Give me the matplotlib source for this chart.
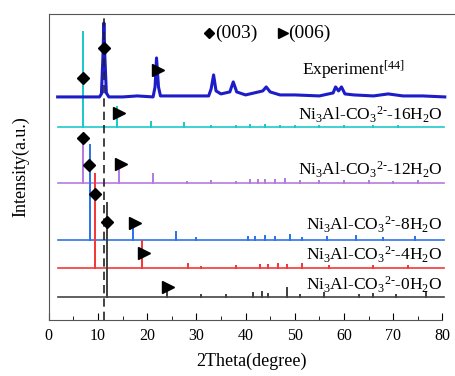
import numpy as np
import matplotlib
matplotlib.use('Agg')
import matplotlib.pyplot as plt
from matplotlib.ticker import MultipleLocator

plt.rcParams['font.family'] = ['Liberation Serif', 'DejaVu Serif']
plt.rcParams['mathtext.fontset'] = 'custom'
plt.rcParams['mathtext.rm'] = 'Liberation Serif'
plt.rcParams['mathtext.it'] = 'Liberation Serif:italic'

# experiment curve (2theta, intensity above baseline)
exp_x = [1.8, 5, 8, 10.3, 10.7, 11.0, 11.2, 11.4, 11.7, 12.2, 15, 18, 21.2, 21.6, 21.9, 22.3, 22.7,
         26, 30, 32.5, 33.0, 33.5, 34.0, 35.0, 36.8, 37.5, 38.2, 40, 43.5, 44.2, 45.0, 47, 50, 55,
         57.8, 58.3, 58.9, 59.5, 60.2, 62, 66, 69, 72, 76, 80.5]
exp_y = [0, 0, 0, 0, 3, 40, 74, 40, 4, 0, 0, 1, 0, 10, 39, 10, 1,
         1, 1, 1, 8, 22, 6, 3, 5, 15, 5, 2, 6, 10, 5, 2, 2, 1,
         4, 10, 6, 10, 3, 2, 1, 3, 1, 1, 0]
exp_base = 223

# simulated patterns: peak positions and heights
cyan_pos = [6.9, 13.8, 20.8, 27.5, 33, 38, 41, 44, 47, 50, 55, 60, 66, 71]
cyan_h = [95, 20, 5, 4, 1, 1, 2, 2, 1, 1, 1, 1, 1, 1]
cyan_base = 193

purple_pos = [7.0, 14.2, 21.2, 28, 33, 38, 41, 42.5, 44, 46, 48, 51, 55, 60, 65, 70, 75]
purple_h = [48, 16, 9, 1, 2, 1, 3, 3, 3, 3, 4, 2, 2, 2, 2, 1, 2]
purple_base = 137

blue_pos = [8.4, 17.1, 25.9, 30, 40.5, 42, 44, 46, 49, 51.5, 56.5, 62.5, 68, 74.5]
blue_h = [95, 18, 8, 2, 3, 3, 4, 3, 5, 2, 3, 4, 2, 3]
blue_base = 80

red_pos = [9.4, 18.9, 28.3, 31, 38, 43, 44.5, 46.5, 48.5, 51.5, 57, 66, 73]
red_h = [94, 27, 4, 1, 2, 3, 3, 4, 3, 4, 2, 2, 2]
red_base = 52

black_pos = [11.8, 24.0, 31, 36, 41.6, 43.3, 44.5, 48.4, 51, 56, 63, 66, 70.5, 76.6]
black_h = [94, 10, 2, 2, 4, 5, 3, 9, 2, 4, 2, 3, 2, 5]
black_base = 23

# (003) and (006) markers
d003_x = [11.2, 6.9, 6.9, 8.2, 9.4, 11.8]
d003_y = [272, 242, 182, 155, 126, 98]
d006_x = [22.3, 14.2, 14.6, 17.5, 19.3, 24.2]
d006_y = [250, 207, 156, 97, 67, 33]

labels = ['16', '12', '8', '4', '0']
label_y = [205, 150, 95, 65, 35]


def sticks(pos, h, base):
    xs, ys = [1.8], [base]
    for p, v in sorted(zip(pos, h)):
        xs += [p, p, p]
        ys += [base, base + v, base]
    xs.append(80.3)
    ys.append(base)
    return xs, ys


fig = plt.figure(figsize=(4.56, 3.76), dpi=100)
ax = fig.add_axes([0.107, 0.149, 0.89, 0.814])

sims = [(cyan_pos, cyan_h, cyan_base, '#1fc9c9'),
        (purple_pos, purple_h, purple_base, '#b57be0'),
        (blue_pos, blue_h, blue_base, '#2f74e8'),
        (red_pos, red_h, red_base, '#f23a3a'),
        (black_pos, black_h, black_base, '#444444')]
for pos, h, base, c in sims:
    xs, ys = sticks(pos, h, base)
    ax.plot(xs, ys, color=c, lw=1.2)

ax.plot(exp_x, np.array(exp_y) + exp_base, color='#1c1cc8', lw=2.2)

ax.axvline(11.3, color='#222222', ls=(0, (5, 3)), lw=1.2)

ax.plot(d003_x, d003_y, 'D', color='black', ms=6, ls='none')
ax.plot(d006_x, d006_y, '>', color='black', ms=8, ls='none')

# legend
ax.plot([32.6], [287], 'D', color='black', ms=5)
ax.text(33.8, 287, '(003)', fontsize=14, va='center')
ax.plot([47.6], [287], '>', color='black', ms=7)
ax.text(48.6, 287, '(006)', fontsize=14, va='center')

ax.text(51.5, 250, 'Experiment$^{[44]}$', fontsize=12.5, va='center')
for n, y in zip(labels, label_y):
    ax.text(80, y, r'Ni$_3$Al-CO$_3$$^{2\text{-}}$-' + n + 'H$_2$O', fontsize=12.5,
            ha='right', va='center')

ax.set_xlim(0, 82.5)
ax.set_ylim(0, 306)
ax.xaxis.set_major_locator(MultipleLocator(10))
ax.xaxis.set_minor_locator(MultipleLocator(5))
ax.tick_params(axis='x', which='major', direction='in', length=5, labelsize=11.5, pad=6)
ax.tick_params(axis='x', which='minor', direction='in', length=3)
ax.set_yticks([])
ax.spines['right'].set_visible(False)
ax.spines['bottom'].set_bounds(0, 80)
for s in ['top', 'left', 'bottom']:
    ax.spines[s].set_color('#555555')
ax.set_xlabel('2Theta(degree)', fontsize=13, labelpad=6)
ax.set_ylabel('Intensity(a.u.)', fontsize=13, labelpad=14)

fig.savefig('out.png', dpi=100)
